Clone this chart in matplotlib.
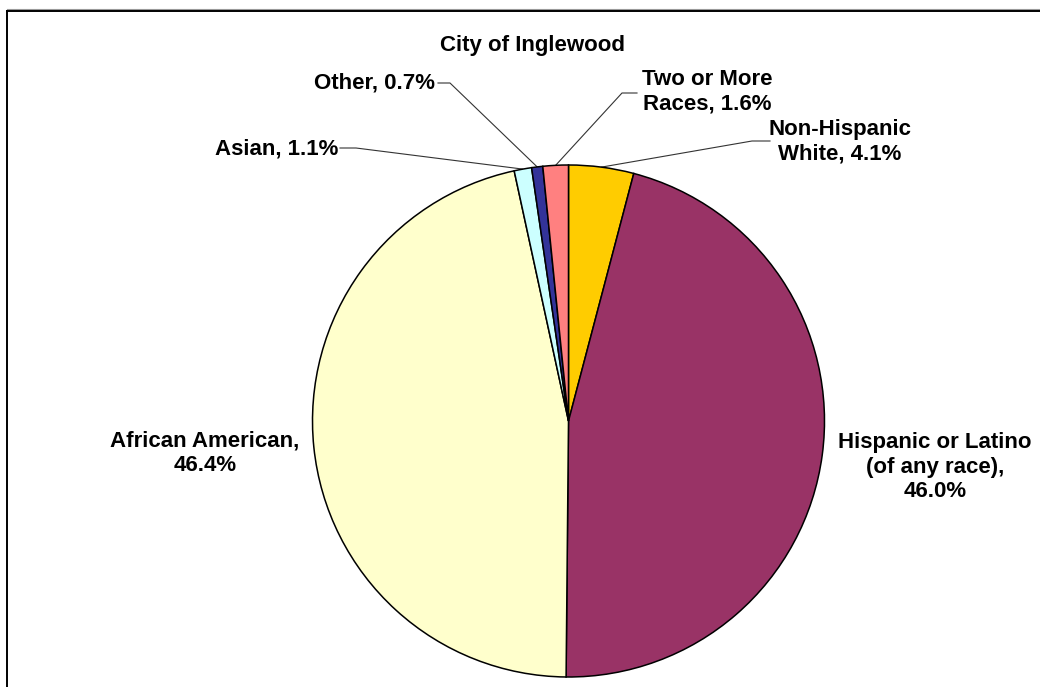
import numpy as np
import matplotlib
matplotlib.use("Agg")
import matplotlib.pyplot as plt
from matplotlib.lines import Line2D

# Race / ethnicity shares, City of Inglewood (clockwise from 12 o'clock)
categories = ["Non-Hispanic\nWhite", "Hispanic or Latino\n(of any race)",
              "African American", "Asian", "Other", "Two or More\nRaces"]
shares = [4.1, 46.0, 46.4, 1.1, 0.7, 1.6]
colors = ["#FFCC00", "#993366", "#FFFFCC", "#CCFFFF", "#333399", "#FF8080"]

W, H = 1040, 687
fig = plt.figure(figsize=(W / 100, H / 100), dpi=100)
ax = fig.add_axes([0, 0, 1, 1])
ax.set_axis_off()

cx, cy, r = 568.5, H - 421, 256
wedges, _ = ax.pie(shares, colors=colors, startangle=90, counterclock=False,
                   center=(cx, cy), radius=r,
                   wedgeprops=dict(edgecolor="black", linewidth=1.1))
ax.set_xlim(0, W)
ax.set_ylim(0, H)
ax.set_aspect("auto")

font = dict(family=["Liberation Sans", "DejaVu Sans"], fontweight="bold",
            fontsize=16, color="black")

ax.text(532, H - 46, "City of Inglewood", ha="center", va="center", **font)

# label text, label centre, and leader-line start (None = label sits beside slice)
labels = [
    (f"Non-Hispanic\nWhite, {shares[0]:.1f}%", (840, H - 142), [(770, H - 141), (752, H - 141)]),
    (f"Hispanic or Latino\n(of any race),\n{shares[1]:.1f}%", (935, H - 467), None),
    (f"African American,\n{shares[2]:.1f}%", (205, H - 453), None),
    (f"Asian, {shares[3]:.1f}%", (277, H - 149), [(340, H - 148), (356, H - 148)]),
    (f"Other, {shares[4]:.1f}%", (375, H - 83), [(438, H - 83), (450, H - 83)]),
    (f"Two or More\nRaces, {shares[5]:.1f}%", (707, H - 92), [(637, H - 93), (622, H - 93)]),
]

for w, (txt, (tx, ty), leader) in zip(wedges, labels):
    ax.text(tx, ty, txt, ha="center", va="center", multialignment="center",
            linespacing=1.2, **font)
    if leader is not None:
        mid = np.deg2rad((w.theta1 + w.theta2) / 2)
        ex, ey = cx + r * np.cos(mid), cy + r * np.sin(mid)
        xs = [p[0] for p in leader] + [ex]
        ys = [p[1] for p in leader] + [ey]
        ax.plot(xs, ys, color="#333333", linewidth=0.8, zorder=0)

# chart-area frame (top and left edges)
ax.add_line(Line2D([6.5, W], [H - 9, H - 9], color="#999999", linewidth=0.8, clip_on=False))
ax.add_line(Line2D([6.5, W], [H - 10.5, H - 10.5], color="black", linewidth=1.4, clip_on=False))
ax.add_line(Line2D([6.5, 6.5], [0, H - 10.5], color="black", linewidth=1.4, clip_on=False))

fig.savefig("out.png", dpi=100, facecolor="white")
